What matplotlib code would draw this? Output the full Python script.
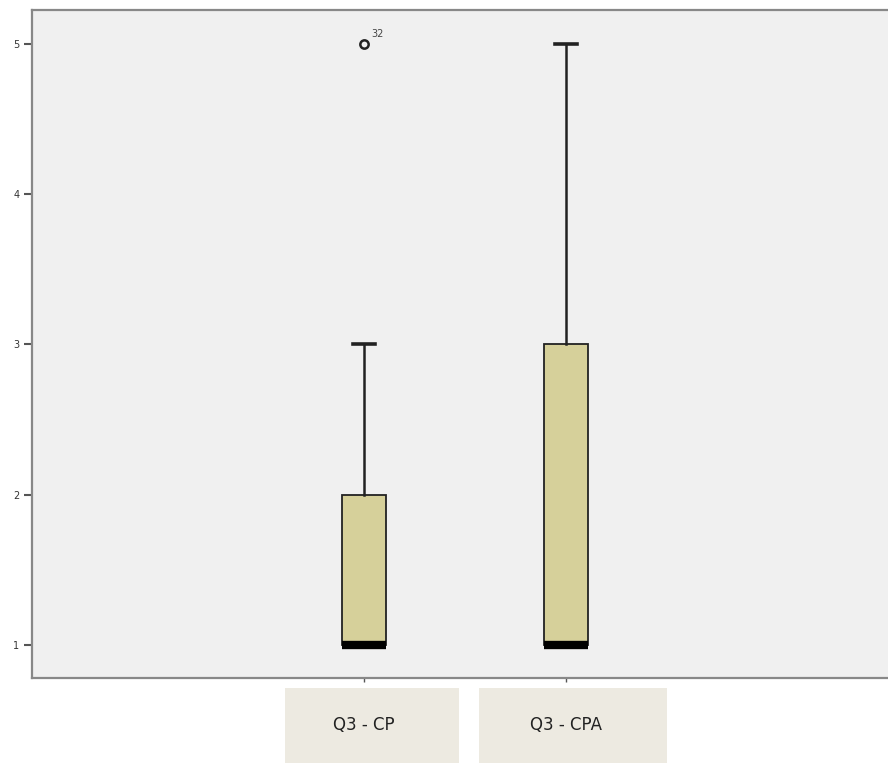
import numpy as np
import matplotlib.pyplot as plt
from matplotlib.patches import Rectangle
import matplotlib.transforms as mtransforms

# box summary values
labels = ['Q3 - CP', 'Q3 - CPA']
whislo = [1, 1]
q1 = [1, 1]
med = [1, 1]
q3 = [2, 3]
whishi = [3, 5]
fliers = [[5], []]
flier_ids = [['32'], []]

stats = []
for i in range(len(labels)):
    stats.append(dict(label=labels[i], whislo=whislo[i], q1=q1[i], med=med[i],
                      q3=q3[i], whishi=whishi[i], fliers=fliers[i]))

fig = plt.figure(figsize=(8.88, 7.63), dpi=100)
fig.patch.set_facecolor('white')
ax = fig.add_axes([0.036, 0.1114, 0.964, 0.8755])
ax.set_facecolor('#f0f0f0')

pos = [1, 2]
ax.bxp(stats, positions=pos, widths=0.22, patch_artist=True, showfliers=True,
       capwidths=0.11,
       boxprops=dict(facecolor='#d6d09a', edgecolor='#222222', linewidth=1.3),
       medianprops=dict(color='black', linewidth=6, solid_capstyle='butt'),
       whiskerprops=dict(color='#222222', linewidth=1.8),
       capprops=dict(color='#222222', linewidth=2.6),
       flierprops=dict(marker='o', markerfacecolor='none', markeredgecolor='#222222',
                       markersize=6, markeredgewidth=1.8))

# outlier case labels
for i in range(len(labels)):
    for v, t in zip(fliers[i], flier_ids[i]):
        ax.annotate(t, (pos[i], v), xytext=(5, 5), textcoords='offset points',
                    fontsize=7, color='#444444')

ax.set_xlim(-0.644, 3.594)
ax.set_ylim(0.78, 5.226)
ax.set_yticks([1, 2, 3, 4, 5])
ax.set_yticklabels(['1', '2', '3', '4', '5'], fontsize=7, color='#333333')
ax.tick_params(axis='y', direction='out', length=6, width=1.5, color='#555555', pad=3)
ax.tick_params(axis='x', direction='out', length=3, width=1, color='#555555')
ax.set_xticks(pos)
ax.set_xticklabels([])

for s in ['left', 'bottom', 'top']:
    ax.spines[s].set_color('#888888')
    ax.spines[s].set_linewidth(1.6)
ax.spines['right'].set_visible(False)

# category label boxes beneath the axis
trans = mtransforms.blended_transform_factory(ax.transData, ax.transAxes)
box_left = [-0.39, -0.43]
box_width = [0.86, 0.93]
for i in range(len(labels)):
    ax.add_patch(Rectangle((pos[i] + box_left[i], -0.127), box_width[i], 0.112,
                           transform=trans, clip_on=False, facecolor='#edeae1',
                           edgecolor='none'))
    ax.text(pos[i], -0.07, labels[i], transform=trans, ha='center', va='center',
            fontsize=12, color='#222222')

fig.savefig('out.png', dpi=100)
